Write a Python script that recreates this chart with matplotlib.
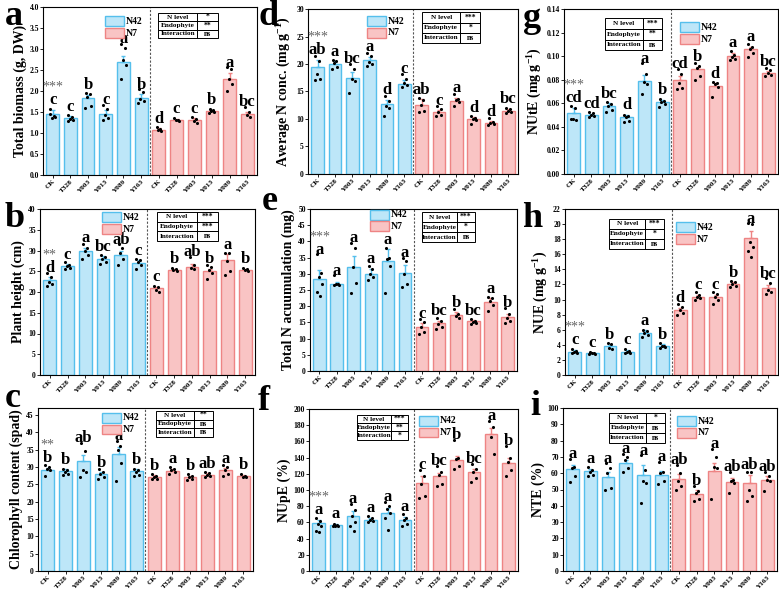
import numpy as np
import matplotlib
matplotlib.use('Agg')
from matplotlib import pyplot as plt
from matplotlib.patches import Rectangle
from matplotlib import ticker

plt.rcParams['font.family'] = 'Liberation Serif'
plt.rcParams['font.weight'] = 'bold'
plt.rcParams['axes.labelweight'] = 'bold'
plt.rcParams['mathtext.fontset'] = 'custom'
plt.rcParams['mathtext.rm'] = 'Liberation Serif:bold'
plt.rcParams['mathtext.it'] = 'Liberation Serif:bold'
plt.rcParams['mathtext.bf'] = 'Liberation Serif:bold'
plt.rcParams['mathtext.default'] = 'rm'

treatments = ['CK', 'T328', 'Y003', 'Y013', 'Y089', 'Y163']
tick_labels = treatments + treatments
stat_rows = ['N level', 'Endophyte', 'Interaction']

# a - total biomass
biomass_mean = [1.45, 1.35, 1.83, 1.45, 2.68, 1.84, 1.08, 1.31, 1.30, 1.52, 2.28, 1.45]
biomass_err = [0.10, 0.05, 0.08, 0.10, 0.15, 0.08, 0.03, 0.03, 0.05, 0.03, 0.15, 0.06]
biomass_dots = [[1.56, 1.40, 1.36, 1.38, 1.46], [1.42, 1.38, 1.33, 1.30, 1.28],
                [1.96, 1.92, 1.85, 1.64, 1.60], [1.66, 1.56, 1.44, 1.36, 1.32],
                [3.12, 3.02, 2.75, 2.62, 2.28], [2.04, 1.98, 1.80, 1.76, 1.72],
                [1.14, 1.10, 1.07, 1.04], [1.36, 1.32, 1.30, 1.28],
                [1.38, 1.34, 1.28, 1.24], [1.58, 1.55, 1.52, 1.50, 1.48],
                [2.56, 2.52, 2.28, 2.16, 2.00], [1.62, 1.50, 1.42, 1.38]]
biomass_letters = ['c', 'c', 'b', 'c', 'a', 'b', 'd', 'c', 'c', 'b', 'a', 'bc']
biomass_stats = ['*', '**', 'ns']

# d - average N conc.
nconc_mean = [19.4, 20.0, 17.4, 20.7, 12.7, 16.4, 12.6, 11.2, 13.3, 10.0, 9.3, 11.5]
nconc_err = [1.3, 0.5, 1.2, 0.6, 0.8, 0.6, 1.0, 0.4, 0.6, 0.3, 0.3, 0.3]
nconc_dots = [[21.4, 20.5, 18.1, 17.3, 17.1], [20.8, 20.6, 20.2, 19.4, 19.0],
              [20.0, 19.0, 17.2, 16.9, 14.7], [22.0, 21.4, 20.4, 20.0, 19.6],
              [14.2, 13.3, 12.4, 12.0, 10.6], [18.2, 17.2, 16.6, 16.2, 15.8],
              [13.9, 13.4, 12.6, 11.5, 11.2], [12.4, 11.8, 11.2, 10.8, 10.6],
              [14.6, 13.6, 13.4, 13.0, 12.4], [10.5, 10.2, 10.0, 9.9, 9.0],
              [10.2, 9.5, 9.3, 9.1, 8.9], [12.0, 11.8, 11.5, 11.2, 11.0]]
nconc_letters = ['ab', 'a', 'bc', 'a', 'd', 'c', 'ab', 'c', 'a', 'd', 'd', 'bc']
nconc_stats = ['***', '*', 'ns']

# g - NUtE
nute_mean = [0.052, 0.050, 0.058, 0.048, 0.079, 0.061, 0.080, 0.089, 0.075, 0.100, 0.106, 0.086]
nute_err = [0.004, 0.001, 0.002, 0.002, 0.005, 0.002, 0.003, 0.002, 0.002, 0.003, 0.002, 0.001]
nute_dots = [[0.058, 0.056, 0.047, 0.046, 0.047], [0.053, 0.052, 0.050, 0.049, 0.048],
             [0.061, 0.059, 0.058, 0.054, 0.053], [0.050, 0.049, 0.048, 0.045, 0.044],
             [0.094, 0.085, 0.078, 0.076, 0.068], [0.064, 0.062, 0.061, 0.059, 0.057],
             [0.089, 0.085, 0.077, 0.073, 0.072], [0.094, 0.092, 0.090, 0.083, 0.080],
             [0.078, 0.077, 0.076, 0.074, 0.065], [0.104, 0.101, 0.099, 0.098, 0.097],
             [0.110, 0.108, 0.106, 0.103, 0.099], [0.090, 0.088, 0.086, 0.084, 0.083]]
nute_letters = ['cd', 'cd', 'bc', 'd', 'a', 'b', 'cd', 'b', 'd', 'a', 'a', 'bc']
nute_stats = ['***', '**', 'ns']

# b - plant height
height_mean = [22.8, 26.3, 29.8, 28.0, 29.0, 27.0, 20.9, 25.3, 26.1, 25.0, 27.6, 25.3]
height_err = [0.7, 0.4, 0.8, 0.6, 1.0, 0.6, 0.4, 0.3, 0.7, 0.6, 1.5, 0.3]
height_dots = [[24.5, 23.5, 22.5, 22.0, 21.5], [27.2, 26.6, 26.2, 25.9, 25.6],
               [31.5, 30.5, 29.8, 28.8, 28.0], [29.0, 28.5, 28.0, 27.2, 26.8],
               [31.5, 30.5, 29.5, 28.0, 26.5], [28.0, 27.6, 27.2, 26.5, 25.6],
               [21.5, 21.2, 20.5, 20.0], [25.8, 25.5, 25.2, 25.0],
               [28.5, 26.5, 25.8, 25.5], [26.5, 26.0, 25.2, 24.5, 23.2],
               [29.5, 29.5, 27.5, 25.0, 24.0], [25.8, 25.5, 25.3, 25.0]]
height_letters = ['d', 'c', 'a', 'bc', 'ab', 'c', 'c', 'b', 'ab', 'b', 'a', 'b']
height_stats = ['***', '***', 'ns']

# e - total N accumulation
naccu_mean = [28.3, 27.0, 32.1, 30.0, 34.1, 30.1, 13.7, 14.7, 17.3, 15.3, 21.4, 16.8]
naccu_err = [3.0, 0.5, 3.5, 1.5, 3.5, 2.5, 1.0, 0.7, 0.8, 0.4, 1.0, 0.8]
naccu_dots = [[36.0, 30.2, 29.0, 27.0, 24.5, 23.3], [29.5, 27.0, 26.8, 26.5, 26.6],
              [39.5, 38.0, 32.0, 27.3, 24.0], [32.3, 31.5, 30.0, 29.0, 28.0],
              [38.0, 35.0, 34.5, 32.5, 24.2], [35.0, 34.0, 30.0, 27.0, 25.8],
              [16.0, 15.2, 13.5, 12.0, 11.5], [16.5, 15.5, 14.5, 13.5, 13.0],
              [19.0, 17.5, 17.0, 16.5], [16.0, 15.5, 15.2, 14.8, 14.5],
              [22.8, 22.5, 21.5, 20.5, 18.5], [19.5, 17.5, 16.5, 15.5, 14.8]]
naccu_letters = ['a', 'a', 'a', 'a', 'a', 'a', 'c', 'bc', 'b', 'bc', 'a', 'b']
naccu_stats = ['***', '*', 'ns']

# h - NUE
nue_mean = [3.1, 2.85, 3.8, 3.1, 5.6, 3.85, 8.6, 10.4, 10.3, 12.1, 18.1, 11.5]
nue_err = [0.2, 0.1, 0.2, 0.2, 0.3, 0.2, 0.3, 0.2, 0.3, 0.2, 1.0, 0.4]
nue_dots = [[3.4, 3.2, 3.0, 2.9, 2.9], [3.0, 2.9, 2.85, 2.8, 2.75],
            [4.3, 4.1, 3.6, 3.4], [3.4, 3.2, 3.0, 2.9, 2.9],
            [6.0, 5.8, 5.6, 5.3, 5.0], [4.3, 3.9, 3.8, 3.7, 3.6],
            [9.4, 9.0, 8.6, 8.2, 8.0], [11.0, 10.6, 10.4, 10.2, 10.0],
            [11.0, 10.8, 10.4, 10.0, 9.4], [12.5, 12.3, 12.1, 11.8, 11.6],
            [20.1, 20.0, 17.6, 17.0, 16.5, 15.7], [12.8, 12.2, 11.2, 11.0, 10.8]]
nue_letters = ['c', 'c', 'b', 'c', 'a', 'b', 'd', 'c', 'c', 'b', 'a', 'bc']
nue_stats = ['***', '*', 'ns']

# c - chlorophyll
chl_mean = [29.2, 28.8, 31.7, 27.9, 33.6, 28.8, 27.1, 28.9, 27.1, 27.8, 29.0, 27.4]
chl_err = [0.6, 0.5, 1.8, 0.6, 2.2, 0.5, 0.5, 0.5, 0.4, 0.4, 0.6, 0.3]
chl_dots = [[30.5, 30.0, 29.5, 29.0, 27.5], [29.5, 29.0, 28.5, 28.0, 27.8],
            [37.0, 34.5, 29.0, 28.5, 27.0], [29.5, 28.5, 28.0, 27.0, 26.5],
            [37.5, 36.0, 35.0, 31.0, 26.0], [29.5, 29.0, 28.5, 27.8, 27.5],
            [28.0, 27.5, 27.0, 26.5, 26.5], [30.0, 29.5, 29.0, 28.5, 28.0],
            [28.0, 27.5, 27.0, 26.5, 26.2], [28.5, 28.2, 27.8, 27.5, 27.2],
            [30.5, 30.0, 29.0, 28.0, 27.5], [28.0, 27.5, 27.2, 27.0]]
chl_letters = ['b', 'b', 'ab', 'b', 'a', 'b', 'b', 'a', 'b', 'ab', 'a', 'b']
chl_stats = ['**', 'ns', 'ns']

# f - NUpE
nupe_mean = [59.5, 56.5, 67.5, 63.5, 72.0, 63.5, 109, 117, 137, 122, 169, 133]
nupe_err = [4, 1.5, 7, 2.5, 6, 3.5, 8, 4, 5, 4, 8, 6]
nupe_dots = [[65, 62, 58, 55, 50, 48], [58, 57, 56, 56, 55],
             [83, 75, 68, 60, 55, 50], [68, 66, 63, 62, 60],
             [85, 80, 76, 72, 66, 51], [70, 66, 63, 58, 55],
             [125, 117, 108, 92, 90], [130, 122, 118, 108, 105],
             [162, 140, 138, 130, 126], [132, 126, 122, 115, 110],
             [185, 178, 165, 145], [154, 140, 134, 125, 117]]
nupe_letters = ['a', 'a', 'a', 'a', 'a', 'a', 'c', 'bc', 'b', 'bc', 'a', 'b']
nupe_stats = ['***', '**', '*']

# i - NTE
nte_mean = [62.3, 61.2, 57.5, 66.0, 58.8, 59.0, 56.5, 47.5, 61.2, 54.7, 54.0, 56.0]
nte_err = [2.5, 1.5, 3, 2, 6, 2.5, 3, 2, 5, 2.5, 5, 2]
nte_dots = [[69, 64, 63, 58, 54.5], [64, 62, 61, 59, 58],
            [66, 63, 60, 51, 50], [72, 70, 68, 63, 61],
            [71, 62, 55, 54, 42], [67, 61, 60, 55, 53.5],
            [65, 60, 55, 52, 50], [52, 49, 48, 44, 43],
            [75, 70, 64, 63, 44], [61, 56, 55, 54, 48],
            [61, 61, 50, 46, 43], [61, 58, 56, 55, 49]]
nte_letters = ['a', 'a', 'a', 'a', 'a', 'a', 'ab', 'b', 'a', 'ab', 'ab', 'ab']
nte_stats = ['*', 'ns', 'ns']

BLUE_FILL, BLUE_EDGE = '#bde6f8', '#55bfec'
PINK_FILL, PINK_EDGE = '#f9c4c4', '#ee8484'
JITTER = [-0.13, 0.09, -0.04, 0.14, -0.16, 0.03]

W, H = 779, 592


def px_rect(l, r, t, b):
    return [l / W, 1 - b / H, (r - l) / W, (b - t) / H]


def draw_table(ax, stats, x0, y0, w, h):
    rh = h / 3
    split = 0.66
    for k in range(3):
        yb = y0 + h - (k + 1) * rh
        ax.add_patch(Rectangle((x0, yb), w * split, rh, transform=ax.transAxes,
                               fill=False, lw=0.7, ec='black', clip_on=False, zorder=6))
        ax.add_patch(Rectangle((x0 + w * split, yb), w * (1 - split), rh, transform=ax.transAxes,
                               fill=False, lw=0.7, ec='black', clip_on=False, zorder=6))
        ax.text(x0 + w * split / 2, yb + rh / 2, stat_rows[k], transform=ax.transAxes,
                ha='center', va='center', fontsize=5.2, zorder=7)
        ax.text(x0 + w * (1 + split) / 2, yb + rh / 2, stats[k], transform=ax.transAxes,
                ha='center', va='center', fontsize=5.5, zorder=7)


def draw_legend(ax, x0, ytop):
    pw, ph, step = 0.09, 0.06, 0.072
    for k, (fc, ec, name) in enumerate([(BLUE_FILL, BLUE_EDGE, 'N42'), (PINK_FILL, PINK_EDGE, 'N7')]):
        yb = ytop - k * step - ph
        ax.add_patch(Rectangle((x0, yb), pw, ph, transform=ax.transAxes, fc=fc, ec=ec,
                               lw=1.0, clip_on=False, zorder=6))
        ax.text(x0 + pw + 0.008, yb + ph / 2, name, transform=ax.transAxes,
                ha='left', va='center', fontsize=7, zorder=7)


def draw_panel(rect, means, errs, dots, letters, stars, stats, ylabel, ymax, ystep, fmt,
               table_box, legend_xy):
    ax = fig.add_axes(rect)
    x = np.arange(12)
    fills = [BLUE_FILL] * 6 + [PINK_FILL] * 6
    edges = [BLUE_EDGE] * 6 + [PINK_EDGE] * 6
    ax.bar(x, means, width=0.72, color=fills, edgecolor=edges, linewidth=1.0, zorder=2)
    for i in x:
        ax.errorbar(i, means[i], yerr=[[0], [errs[i]]], ecolor=edges[i], elinewidth=1.0,
                    capsize=1.5, capthick=1.0, fmt='none', zorder=3)
        ax.scatter([i + o for o in JITTER[:len(dots[i])]], dots[i], s=5, color='black',
                   linewidths=0, zorder=4)
        # letters sit just over the error bar, or close to the top dot
        ly = max(means[i] + errs[i] + 0.01 * ymax, max(dots[i]) - 0.02 * ymax)
        ax.text(i, ly, letters[i], ha='center', va='bottom', fontsize=12, zorder=5)
        if i == 0 and stars:
            ax.text(i, ly + 0.088 * ymax, stars, ha='center', va='bottom', fontsize=10,
                    color='#666666', fontweight='normal', zorder=5)
    ax.axvline(5.5, color='#555555', lw=0.8, ls=(0, (2, 1.5)), zorder=1)
    ax.set_xlim(-0.55, 11.55)
    ax.set_ylim(0, ymax)
    ax.set_yticks(np.arange(0, ymax + 1e-9, ystep))
    ax.yaxis.set_major_formatter(ticker.FormatStrFormatter(fmt))
    ax.set_xticks(x)
    ax.set_xticklabels(tick_labels, rotation=45, ha='right', rotation_mode='anchor', fontsize=5.2)
    ax.tick_params(axis='both', direction='out', length=2, width=0.6, pad=1)
    ax.tick_params(axis='x', pad=0.5)
    ax.tick_params(axis='y', labelsize=5.5)
    for sp in ax.spines.values():
        sp.set_linewidth(0.8)
    ax.set_ylabel(ylabel, fontsize=10, labelpad=2)
    draw_table(ax, stats, *table_box)
    draw_legend(ax, *legend_xy)
    return ax


fig = plt.figure(figsize=(7.79, 5.92), dpi=100)

draw_panel(px_rect(43, 257, 7, 175), biomass_mean, biomass_err, biomass_dots, biomass_letters,
           '***', biomass_stats, 'Total biomass (g, DW)', 4.0, 0.5, '%.1f',
           (0.537, 0.815, 0.28, 0.149), (0.29, 0.946))
draw_panel(px_rect(308, 518, 9, 174), nconc_mean, nconc_err, nconc_dots, nconc_letters,
           '***', nconc_stats, 'Average N conc. (mg g$^{-1}$)', 30, 5, '%d',
           (0.543, 0.794, 0.276, 0.186), (0.28, 0.957))
draw_panel(px_rect(564, 778, 9, 174), nute_mean, nute_err, nute_dots, nute_letters,
           '***', nute_stats, 'NUtE (mg g$^{-1}$)', 0.14, 0.02, '%.2f',
           (0.19, 0.75, 0.27, 0.195), (0.54, 0.92))
draw_panel(px_rect(40, 255, 209, 375), height_mean, height_err, height_dots, height_letters,
           '**', height_stats, 'Plant height (cm)', 40, 5, '%d',
           (0.544, 0.807, 0.284, 0.175), (0.288, 0.98))
draw_panel(px_rect(310, 517, 209, 371), naccu_mean, naccu_err, naccu_dots, naccu_letters,
           '***', naccu_stats, 'Total N acuumulation (mg)', 50, 5, '%d',
           (0.541, 0.796, 0.256, 0.184), (0.29, 0.995))
draw_panel(px_rect(565, 778, 209, 375), nue_mean, nue_err, nue_dots, nue_letters,
           '***', nue_stats, 'NUE (mg g$^{-1}$)', 22, 2, '%d',
           (0.207, 0.76, 0.258, 0.18), (0.52, 0.92))
draw_panel(px_rect(38, 253, 408, 571), chl_mean, chl_err, chl_dots, chl_letters,
           '**', chl_stats, 'Chlorophyll content (spad)', 47, 5, '%d',
           (0.549, 0.824, 0.265, 0.158), (0.298, 0.97))
draw_panel(px_rect(309, 518, 409, 571), nupe_mean, nupe_err, nupe_dots, nupe_letters,
           '***', nupe_stats, 'NUpE (%)', 200, 20, '%d',
           (0.23, 0.811, 0.244, 0.152), (0.526, 0.957))
draw_panel(px_rect(563, 777, 408, 571), nte_mean, nte_err, nte_dots, nte_letters,
           '', nte_stats, 'NTE (%)', 100, 10, '%d',
           (0.215, 0.788, 0.262, 0.182), (0.533, 0.95))

# panel letters
for lab, px, py in [('a', 5, 25), ('d', 258, 25), ('g', 523, 27),
                    ('b', 5, 227), ('e', 262, 210), ('h', 522, 227),
                    ('c', 5, 407), ('f', 258, 410), ('i', 530, 415)]:
    fig.text(px / W, 1 - py / H, lab, fontsize=26, va='baseline', ha='left')

fig.savefig('out.png', dpi=100)
